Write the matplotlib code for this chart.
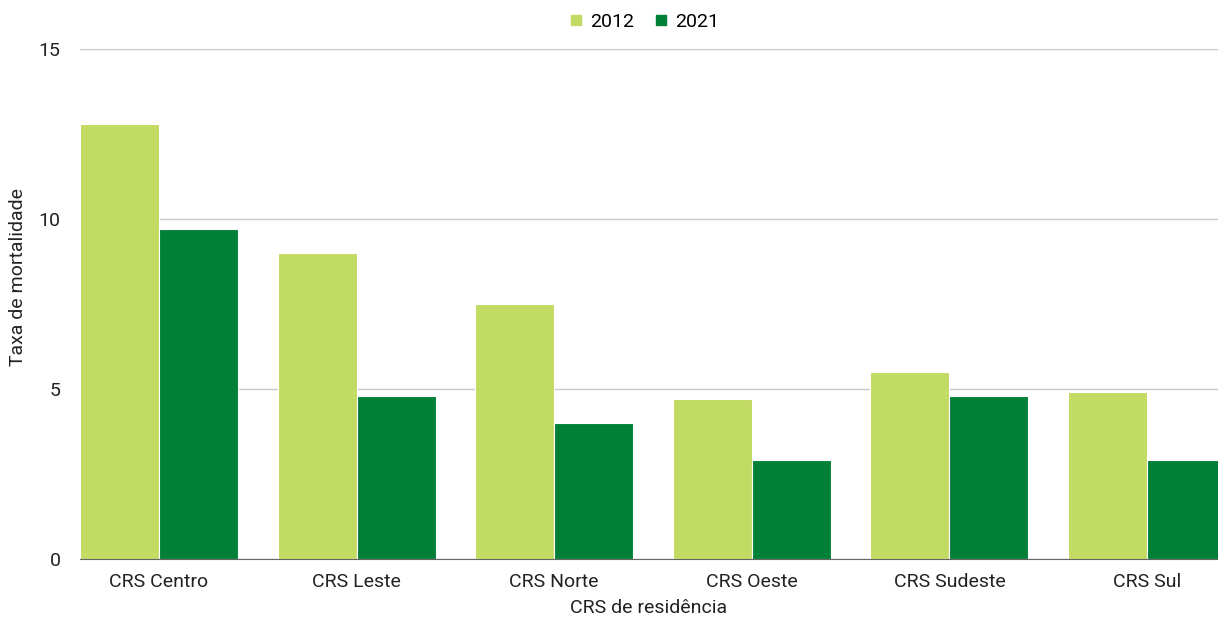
import numpy as np
import matplotlib
matplotlib.use("Agg")
import matplotlib.pyplot as plt
from matplotlib.lines import Line2D

categorias = ["CRS Centro", "CRS Leste", "CRS Norte", "CRS Oeste", "CRS Sudeste", "CRS Sul"]
taxa_2012 = [12.8, 9.0, 7.5, 4.7, 5.5, 4.9]
taxa_2021 = [9.7, 4.8, 4.0, 2.9, 4.8, 2.9]
anos = ["2012", "2021"]
yticks = [0, 5, 10, 15]

cor_2012 = "#c2db63"
cor_2021 = "#008037"

plt.rcParams['font.family'] = ['Roboto', 'DejaVu Sans']

fig = plt.figure(figsize=(12.18, 6.17), dpi=100)
ax = fig.add_axes([80 / 1218, 1 - 559 / 617, 1 - 80 / 1218, (559 - 49) / 617])

x = np.arange(len(categorias))
w = 0.4
ax.bar(x - w / 2, taxa_2012, width=w, color=cor_2012, edgecolor="white", linewidth=0.8, zorder=3)
ax.bar(x + w / 2, taxa_2021, width=w, color=cor_2021, edgecolor="white", linewidth=0.8, zorder=3)

ax.set_xlim(-0.4, -0.4 + 1138 / 197.6)
ax.set_ylim(0, 15)
ax.set_yticks(yticks)
ax.set_xticks(x)
ax.set_xticklabels(categorias)
ax.tick_params(axis="both", length=0, labelsize=14, colors="#222222")
ax.tick_params(axis="y", pad=14)
ax.tick_params(axis="x", pad=10)

ax.grid(axis="y", color="#c8c8c8", linewidth=1, zorder=0)
for s in ["top", "right", "left"]:
    ax.spines[s].set_visible(False)
ax.spines["bottom"].set_color("#666666")
ax.spines["bottom"].set_zorder(4)

fig.text(18 / 1218, 1 - 277 / 617, "Taxa de mortalidade", rotation=90, fontsize=14,
         color="#222222", ha="center", va="center")
ax.set_xlabel("CRS de residência", fontsize=14, color="#222222", labelpad=6)

handles = [Line2D([], [], marker="s", linestyle="none", markersize=7, color=c) for c in [cor_2012, cor_2021]]
fig.legend(handles, anos, loc="center", bbox_to_anchor=(0.527, 1 - 22 / 617), ncol=2, frameon=False,
           fontsize=14, handletextpad=0.1, columnspacing=0.8, handlelength=1.2)

fig.savefig("out.png", dpi=100)
